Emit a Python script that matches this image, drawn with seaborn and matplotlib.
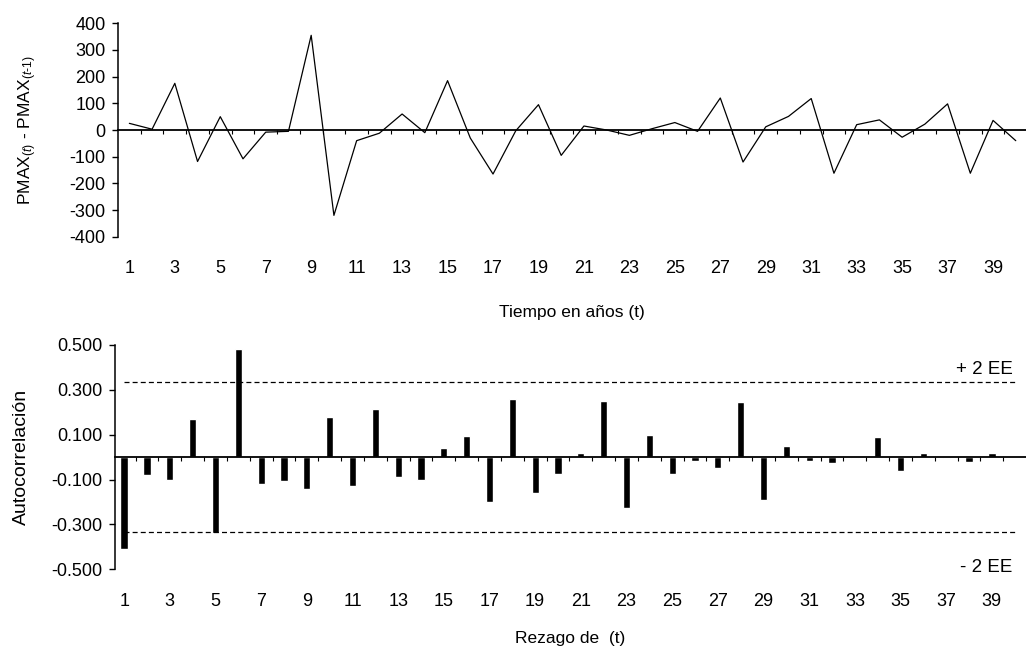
import numpy as np
import matplotlib
matplotlib.use("Agg")
import matplotlib.pyplot as plt
from matplotlib.ticker import FormatStrFormatter
import seaborn as sns

# ---------------- data ----------------
anos = list(range(1, 41))
dif_pmax = [25, 3, 175, -118, 50, -108, -8, -5, 355, -320,
            -40, -12, 60, -10, 185, -30, -165, -3, 95, -95,
            15, 0, -20, 5, 28, -5, 120, -120, 12, 51,
            118, -162, 20, 38, -27, 22, 98, -162, 36, -40]

rezagos = list(range(1, 41))
autocorr = [-0.41, -0.08, -0.10, 0.17, -0.34, 0.48, -0.12, -0.105, -0.14, 0.18,
            -0.13, 0.215, -0.09, -0.10, 0.04, 0.095, -0.20, 0.26, -0.16, -0.075,
            0.018, 0.25, -0.225, 0.097, -0.073, -0.017, -0.048, 0.248, -0.19, 0.049,
            -0.017, -0.025, -0.005, 0.089, -0.063, 0.018, -0.005, -0.02, 0.018, 0.005]
ee_sup = 0.335
ee_inf = -0.335

xticks_odd = list(range(1, 40, 2))
yticks_top = list(range(-400, 401, 100))
yticks_bot = [-0.5, -0.3, -0.1, 0.1, 0.3, 0.5]

# ---------------- style ----------------
sns.set_theme(style="white")
plt.rcParams["font.family"] = ["Liberation Sans", "DejaVu Sans"]
plt.rcParams["mathtext.fontset"] = "custom"
plt.rcParams["mathtext.rm"] = "Liberation Sans"
plt.rcParams["mathtext.it"] = "Liberation Sans:italic"
plt.rcParams["axes.unicode_minus"] = False
plt.rcParams["text.color"] = "black"
plt.rcParams["axes.labelcolor"] = "black"
plt.rcParams["xtick.color"] = "black"
plt.rcParams["ytick.color"] = "black"

fig = plt.figure(figsize=(10.26, 6.53), dpi=100)
ax1 = fig.add_axes([0.1150, 0.6375, 0.885, 0.3268])
ax2 = fig.add_axes([0.1121, 0.1282, 0.888, 0.3435])

TICK_FS = 13

def style_axes(ax, xlim):
    for s in ["top", "right"]:
        ax.spines[s].set_visible(False)
    ax.spines["left"].set_color("black")
    ax.spines["left"].set_linewidth(1.1)
    ax.spines["bottom"].set_color("black")
    ax.spines["bottom"].set_linewidth(1.3)
    ax.spines["bottom"].set_position(("data", 0))
    ax.set_xlim(*xlim)
    ax.set_xticks(np.arange(1.5, 40.0, 1.0))
    ax.set_xticklabels([])
    ax.tick_params(axis="x", direction="out", length=3, width=0.8, bottom=True)
    ax.tick_params(axis="y", direction="out", length=4, width=1.0, left=True,
                   labelsize=TICK_FS, pad=5)
    sec = ax.secondary_xaxis(0)
    sec.set_xticks(xticks_odd)
    sec.set_xticklabels([str(v) for v in xticks_odd])
    sec.tick_params(axis="x", length=0, pad=17, labelsize=TICK_FS)
    sec.spines["bottom"].set_visible(False)
    ax.grid(False)
    return sec

# ---------------- top panel ----------------
sns.lineplot(x=anos, y=dif_pmax, color="black", linewidth=0.9, ax=ax1)
ax1.set_ylim(-400, 400)
ax1.set_yticks(yticks_top)
style_axes(ax1, (0.5, 40.45))
ax1.set_ylabel(r"PMAX$_{(t)}$ - PMAX$_{(t\text{-}1)}$", fontsize=12.5)
ax1.yaxis.set_label_coords(-0.087, 0.5)
ax1.set_xlabel("Tiempo en años (t)", fontsize=12.5)
ax1.xaxis.set_label_coords(0.5, -0.32)

# ---------------- bottom panel ----------------
sns.barplot(x=rezagos, y=autocorr, native_scale=True, color="black",
            width=0.32, ax=ax2)
ax2.hlines([ee_sup, ee_inf], rezagos[0], rezagos[-1], colors="black",
           linestyles=(0, (4, 2.5)), linewidth=0.9)
ax2.set_ylim(-0.5, 0.5)
ax2.set_yticks(yticks_bot)
ax2.yaxis.set_major_formatter(FormatStrFormatter("%.3f"))
style_axes(ax2, (0.6, 40.5))
ax2.set_ylabel("Autocorrelación", fontsize=14)
ax2.yaxis.set_label_coords(-0.093, 0.5)
ax2.set_xlabel("Rezago de  (t)", fontsize=12.5)
ax2.xaxis.set_label_coords(0.5, -0.275)
ax2.text(39.9, 0.39, "+ 2 EE", ha="right", va="center", fontsize=13.5)
ax2.text(39.9, -0.49, "- 2 EE", ha="right", va="center", fontsize=13.5)

fig.savefig("out.png", dpi=100, facecolor="white")
